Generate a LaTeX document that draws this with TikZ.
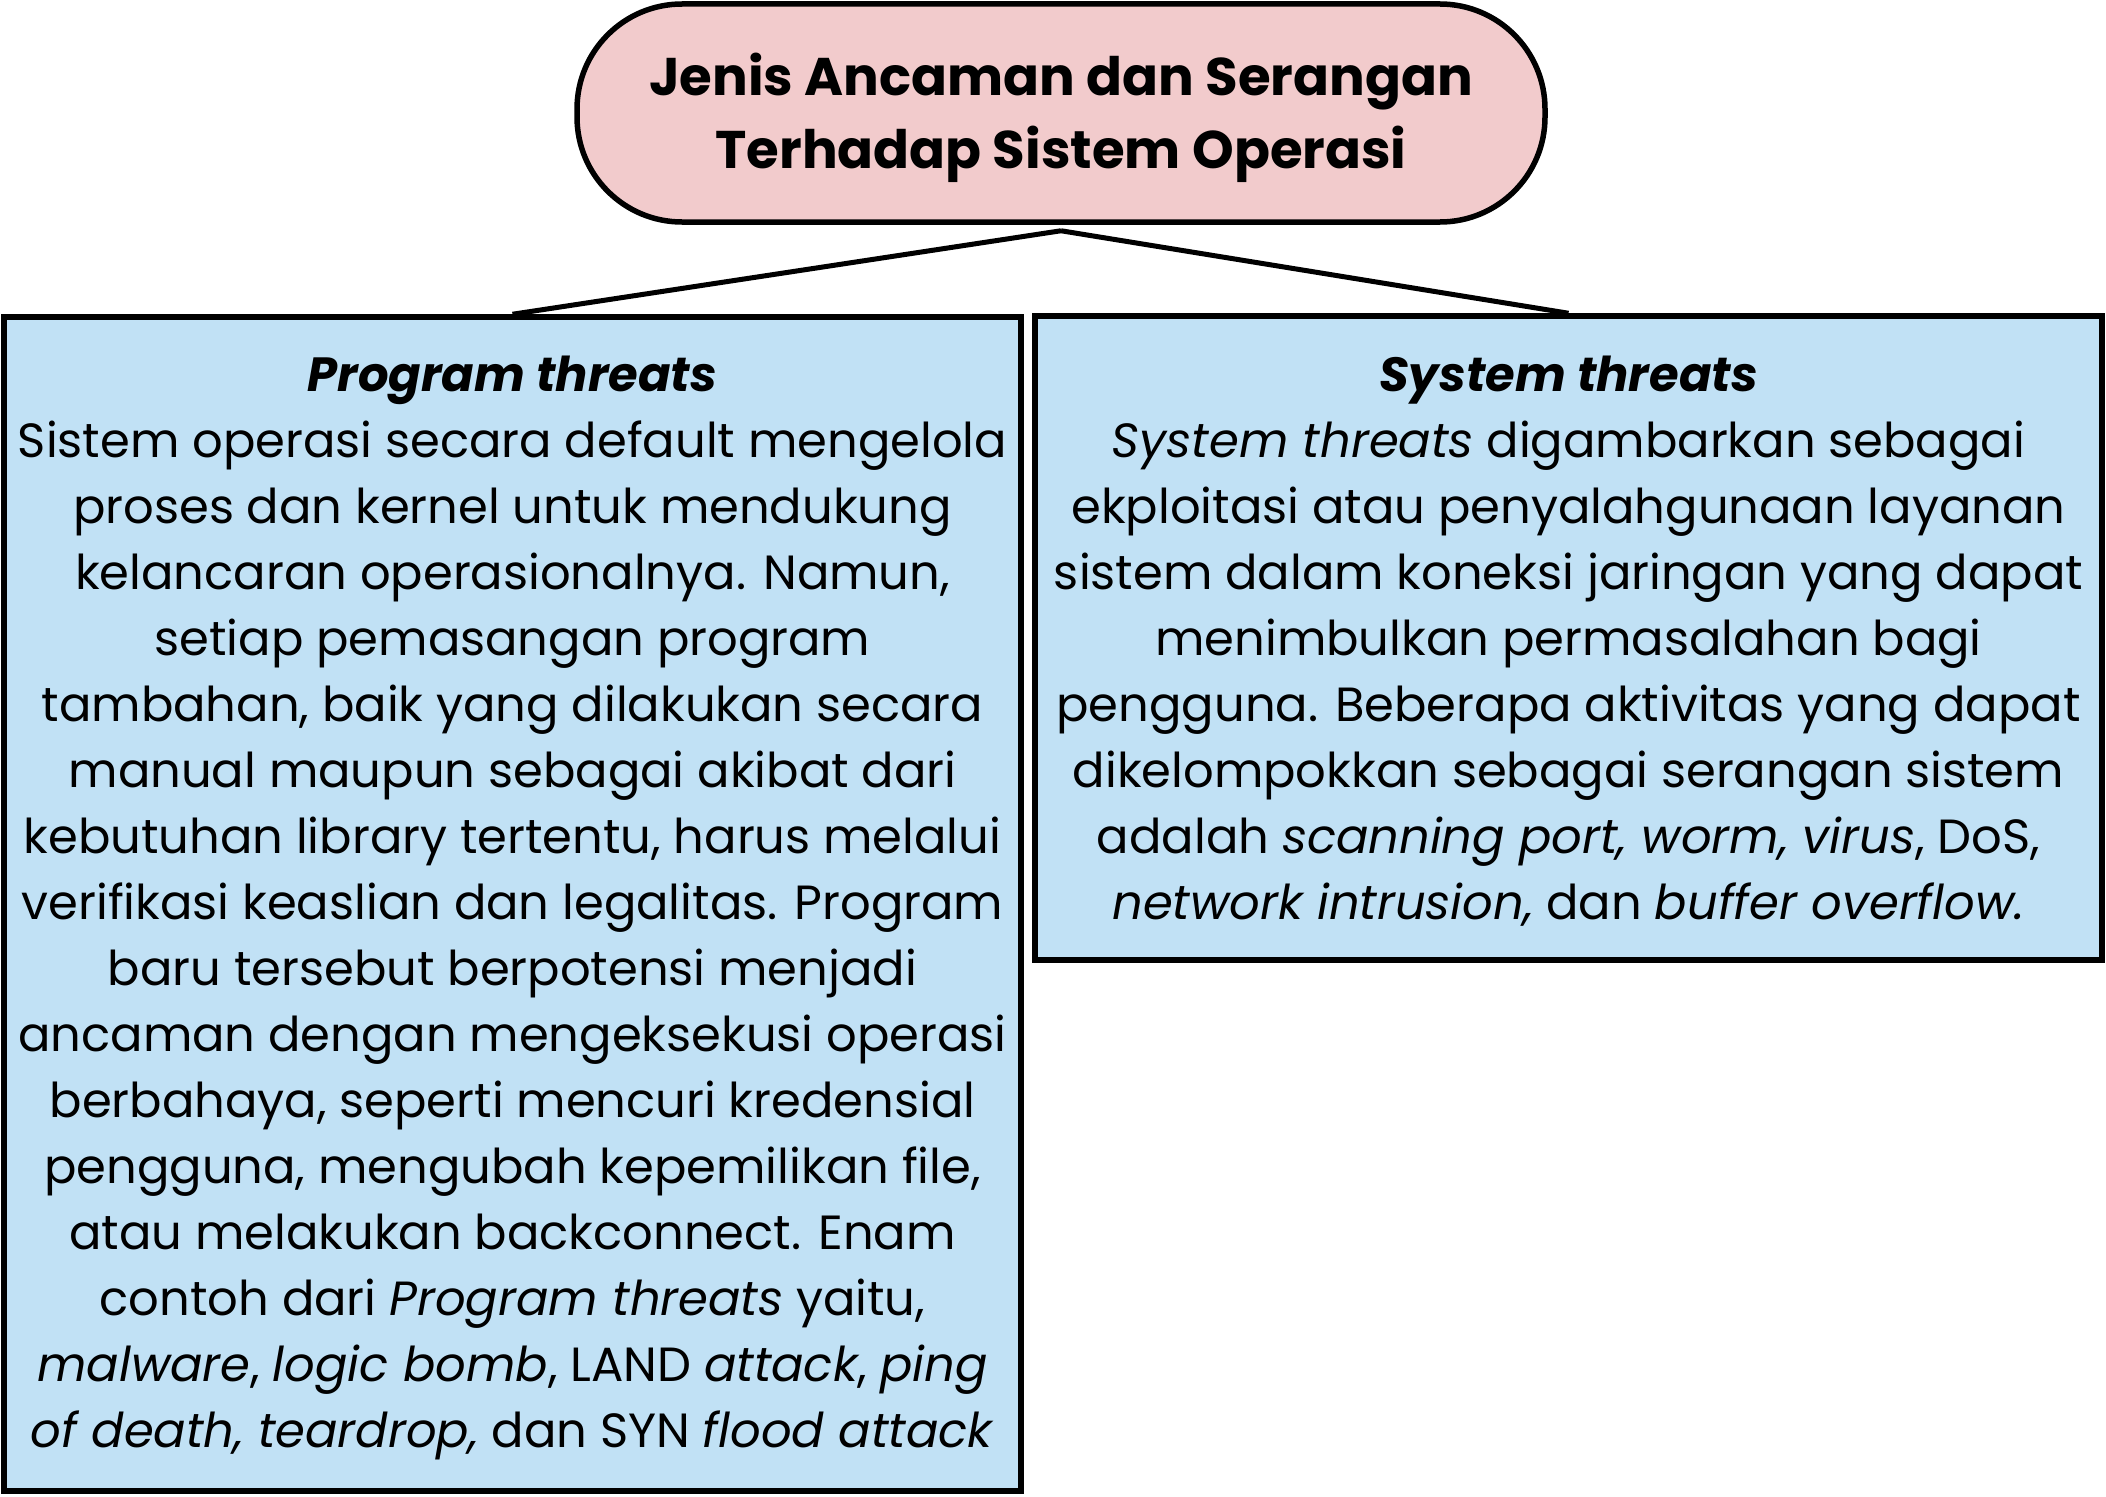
\documentclass[tikz,border=0pt]{standalone}
\usepackage{fontspec}
\setmainfont{Poppins}
\definecolor{pinkfill}{HTML}{F2CBCC}
\definecolor{bluefill}{HTML}{C1E1F5}
\tikzset{
  titlebox/.style={draw=black, line width=5.5pt, fill=pinkfill, rounded corners=105pt,
    rectangle, minimum width=968pt, minimum height=218pt, inner sep=0pt},
  titletext/.style={inner sep=0pt, align=center, font=\fontsize{53}{72.5}\selectfont\bfseries},
  infobox/.style={draw=black, line width=5.5pt, fill=bluefill, rectangle, inner sep=0pt},
  infotext/.style={inner sep=0pt, align=center, font=\fontsize{48}{66}\selectfont},
  link/.style={draw=black, line width=5pt}
}
\begin{document}
\begin{tikzpicture}[x=1pt,y=-1pt]
\useasboundingbox (0,0) rectangle (2106,1496);
\node[titlebox] (title) at (1061,113) {};
\node[titletext] (titlet) at (1061,118) {Jenis Ancaman dan Serangan\\Terhadap Sistem Operasi};
\node[infobox, minimum width=1017pt, minimum height=1174pt] (prog) at (512.5,904) {};
\node[infotext] (progt) at (512.5,908) {%
\textbf{\textit{Program threats}}\\
Sistem operasi secara default mengelola\\
proses dan kernel untuk mendukung\\
kelancaran operasionalnya. Namun,\\
setiap pemasangan program\\
tambahan, baik yang dilakukan secara\\
manual maupun sebagai akibat dari\\
kebutuhan library tertentu, harus melalui\\
verifikasi keaslian dan legalitas. Program\\
baru tersebut berpotensi menjadi\\
ancaman dengan mengeksekusi operasi\\
berbahaya, seperti mencuri kredensial\\
pengguna, mengubah kepemilikan file,\\
atau melakukan backconnect. Enam\\
contoh dari \textit{Program threats} yaitu,\\
\textit{malware}, \textit{logic bomb}, LAND \textit{attack}, \textit{ping}\\
\textit{of death, teardrop,} dan SYN \textit{flood attack}};
\node[infobox, minimum width=1067pt, minimum height=644pt] (sys) at (1568.5,638) {};
\node[infotext] (syst) at (1568.5,641) {%
\textbf{\textit{System threats}}\\
\textit{System threats} digambarkan sebagai\\
ekploitasi atau penyalahgunaan layanan\\
sistem dalam koneksi jaringan yang dapat\\
menimbulkan permasalahan bagi\\
pengguna. Beberapa aktivitas yang dapat\\
dikelompokkan sebagai serangan sistem\\
adalah \textit{scanning port, worm, virus}, DoS,\\
\textit{network intrusion,} dan \textit{buffer overflow.}};
\draw[link] ([yshift=-6pt]title.south) -- (prog.north);
\draw[link] ([yshift=-6pt]title.south) -- (sys.north);
\end{tikzpicture}
\end{document}
